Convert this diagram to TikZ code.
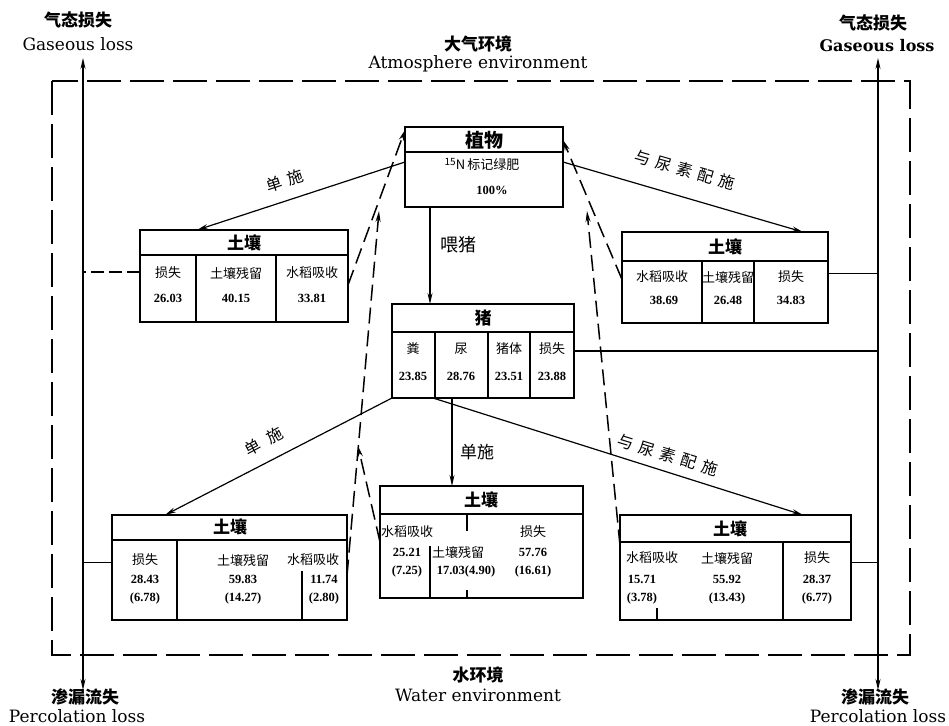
\documentclass[tikz,border=0pt]{standalone}
\usepackage{fontspec}
\setmainfont{Liberation Serif}
\newfontfamily\cjk{Noto Sans CJK SC}
\newfontfamily\wide{DejaVu Serif}
\usetikzlibrary{arrows.meta}
\begin{document}
\begin{tikzpicture}[x=1pt,y=-1pt,
  box/.style={draw, line width=1.7pt, inner sep=0pt, outer sep=0pt},
  arr/.style={line width=1.2pt, -{Stealth[length=11pt,width=5pt]}},
  ret/.style={line width=1.5pt, dash pattern=on 16pt off 7pt, -{Stealth[length=11pt,width=5pt]}},
  side/.style={line width=1.3pt, {Stealth[length=11pt,width=5pt]}-{Stealth[length=11pt,width=5pt]}},
  frame/.style={line width=2.2pt, dash pattern=on 34pt off 9pt},
  div/.style={line width=1.5pt},
  link/.style={line width=1.3pt},
  cn/.style={font=\cjk\fontsize{13}{13}\selectfont, inner sep=0pt},
  num/.style={font=\bfseries\fontsize{12.5}{12.5}\selectfont, inner sep=0pt},
  ttl/.style={font=\cjk\bfseries\fontsize{17}{17}\selectfont, inner sep=0pt},
  lab/.style={font=\cjk\fontsize{16}{16}\selectfont, inner sep=0pt},
  top/.style={font=\cjk\bfseries\fontsize{17}{17}\selectfont, inner sep=0pt},
  eng/.style={font=\wide\fontsize{17}{17}\selectfont, inner sep=0pt}
]
\useasboundingbox (0,0) rectangle (949,725);

% outer frame
\draw[frame] (52,81) rectangle (910,655);

% side lines
\coordinate (gl) at (83,58);
\coordinate (pl) at (83,690);
\coordinate (gr) at (878,58);
\coordinate (pr) at (878,690);
\draw[side] (pl) -- (gl);
\draw[side] (pr) -- (gr);

% outside labels
\node[top] (g1c) at (78,20) {气态损失};
\node[eng] (g1e) at (78,44) {Gaseous loss};
\node[top] (g2c) at (873,23) {气态损失};
\node[eng, font=\wide\bfseries\fontsize{16}{16}\selectfont] (g2e) at (877,46) {Gaseous loss};
\node[top] (atc) at (478,44) {大气环境};
\node[eng] (ate) at (478,64) {Atmosphere environment};
\node[top] (wtc) at (478,675) {水环境};
\node[eng] (wte) at (478,695) {Water environment};
\node[top] (p1c) at (85,697) {渗漏流失};
\node[eng] (p1e) at (77,716) {Percolation loss};
\node[top] (p2c) at (875,697) {渗漏流失};
\node[eng] (p2e) at (878,716) {Percolation loss};

% plant box
\node[box, minimum width=158pt, minimum height=80pt] (plant) at (484,167) {};
\draw[div] (405,152) -- (563,152);
\node[ttl, font=\cjk\bfseries\fontsize{19}{19}\selectfont] (plt) at (484,140) {植物};
\node[cn] (pl1) at (482,164) {\fontsize{10}{10}\selectfont\raisebox{4pt}{15}\fontsize{13}{13}\selectfont N\,标记绿肥};
\node[num] (pl2) at (492,190) {100\%};

% pig box
\node[box, minimum width=182pt, minimum height=94pt] (pig) at (483,351) {};
\draw[div] (392,332) -- (574,332);
\draw[div] (435,332) -- (435,398);
\draw[div] (488,332) -- (488,398);
\draw[div] (530,332) -- (530,398);
\node[ttl] (pgt) at (483,318) {猪};
\node[cn] (pg1) at (413,349) {粪};
\node[cn] (pg2) at (461,349) {尿};
\node[cn] (pg3) at (509,349) {猪体};
\node[cn] (pg4) at (552,349) {损失};
\node[num] (pv1) at (413,376) {23.85};
\node[num] (pv2) at (461,376) {28.76};
\node[num] (pv3) at (509,376) {23.51};
\node[num] (pv4) at (552,376) {23.88};

% top-left soil
\node[box, minimum width=208pt, minimum height=92pt] (tl) at (244,276) {};
\draw[div] (140,255) -- (348,255);
\draw[div] (196,255) -- (196,322);
\draw[div] (276,255) -- (276,322);
\node[ttl] (tlt) at (244,243) {土壤};
\node[cn] (tl1) at (168,273) {损失};
\node[cn] (tl2) at (236,273) {土壤残留};
\node[cn] (tl3) at (312,273) {水稻吸收};
\node[num] (tv1) at (168,298) {26.03};
\node[num] (tv2) at (236,298) {40.15};
\node[num] (tv3) at (312,298) {33.81};

% top-right soil
\node[box, minimum width=206pt, minimum height=91pt] (tr) at (725,277.5) {};
\draw[div] (622,261) -- (828,261);
\draw[div] (702,261) -- (702,323);
\draw[div] (754,261) -- (754,323);
\node[ttl] (trt) at (725,247) {土壤};
\node[cn] (tr1) at (662,277) {水稻吸收};
\node[cn] (tr2) at (728,277) {土壤残留};
\node[cn] (tr3) at (791,277) {损失};
\node[num] (rv1) at (664,300) {38.69};
\node[num] (rv2) at (728,300) {26.48};
\node[num] (rv3) at (791,300) {34.83};

% bottom-left soil
\node[box, minimum width=235pt, minimum height=105pt] (bl) at (229.5,567.5) {};
\draw[div] (112,540) -- (347,540);
\draw[div] (177,540) -- (177,620);
\draw[div] (302,571) -- (302,620);
\node[ttl] (blt) at (230,527) {土壤};
\node[cn] (bl1) at (145,560) {损失};
\node[cn] (bl2) at (243,560) {土壤残留};
\node[cn] (bl3) at (313,560) {水稻吸收};
\node[num] (bv1) at (145,579) {28.43};
\node[num] (bv2) at (243,579) {59.83};
\node[num] (bv3) at (324,579) {11.74};
\node[num] (bp1) at (145,598) {(6.78)};
\node[num] (bp2) at (243,598) {(14.27)};
\node[num] (bp3) at (324,598) {(2.80)};

% bottom-middle soil
\node[box, minimum width=203pt, minimum height=112pt] (bm) at (481.5,542) {};
\draw[div] (380,514) -- (583,514);
\draw[div] (430,546) -- (430,598);
\draw[div] (467,514) -- (467,531);
\draw[div] (467,590) -- (467,598);
\node[ttl] (bmt) at (481,500) {土壤};
\node[cn] (bm1) at (407,532) {水稻吸收};
\node[cn] (bm2) at (458,552) {土壤残留};
\node[cn] (bm3) at (533,532) {损失};
\node[num] (mv1) at (407,552) {25.21};
\node[num] (mp1) at (407,571) {(7.25)};
\node[num] (mv2) at (466,571) {17.03(4.90)};
\node[num] (mv3) at (533,552) {57.76};
\node[num] (mp3) at (533,571) {(16.61)};

% bottom-right soil
\node[box, minimum width=231pt, minimum height=105pt] (br) at (735.5,567.5) {};
\draw[div] (620,542) -- (851,542);
\draw[div] (783,542) -- (783,620);
\draw[div] (657,608) -- (657,620);
\node[ttl] (brt) at (730,529) {土壤};
\node[cn] (br1) at (652,558) {水稻吸收};
\node[cn] (br2) at (727,558) {土壤残留};
\node[cn] (br3) at (817,558) {损失};
\node[num] (sv1) at (642,579) {15.71};
\node[num] (sv2) at (727,579) {55.92};
\node[num] (sv3) at (817,579) {28.37};
\node[num] (sp1) at (642,598) {(3.78)};
\node[num] (sp2) at (727,598) {(13.43)};
\node[num] (sp3) at (817,598) {(6.77)};

% links to side lines
\draw[link, dash pattern=on 13pt off 5pt] ([yshift=4pt]tl.west) -- ([yshift=4pt]tl.west -| gl);
\draw[link] ([yshift=4pt]tr.east) -- ([yshift=4pt]tr.east -| gr);
\draw[link] (pig.east) -- (pig.east -| gr);
\draw[link] ([yshift=5pt]bl.west) -- ([yshift=5pt]bl.west -| gl);
\draw[link] ([yshift=5pt]br.east) -- ([yshift=5pt]br.east -| gr);

% flows
\draw[arr] ([yshift=5pt]plant.west) -- ([xshift=57pt]tl.north west);
\draw[arr] ([yshift=5pt]plant.east) -- ([xshift=181pt]tr.north west);
\draw[arr] ([xshift=25pt]plant.south west) -- ([xshift=25pt]plant.south west |- pig.north);
\draw[arr] (pig.south west) -- ([xshift=53pt]bl.north west);
\draw[arr] ([xshift=60pt]pig.south west) -- ([xshift=60pt]pig.south west |- bm.north);
\draw[arr] ([xshift=41pt]pig.south west) -- ([xshift=183pt]br.north west);

% return (dashed) flows
\coordinate (l1tip) at (379,211);
\coordinate (r1tip) at (587,211);
\coordinate (m1tip) at (358,446);
\draw[ret] ([yshift=-9pt]tl.east) -- ([yshift=-3pt]plant.north west);
\draw[ret] ([yshift=-2pt]tr.west) -- ([yshift=-13pt]plant.north east);
\draw[ret] ([yshift=-8pt]bl.east) -- (l1tip);
\draw[ret] ([yshift=22pt]br.west) -- (r1tip);
\draw[ret] (bm.west) -- (m1tip);

% flow labels
\node[lab, rotate=18] (f1) at (285,181) {单\hspace{6pt}施};
\node[lab, rotate=-16] (f2) at (685,170) {与\hspace{6pt}尿\hspace{6pt}素\hspace{6pt}配\hspace{6pt}施};
\node[lab, font=\cjk\fontsize{18}{18}\selectfont] (f3) at (458,245) {喂猪};
\node[lab, rotate=28] (f4) at (264,441) {单\hspace{9pt}施};
\node[lab, font=\cjk\fontsize{17}{17}\selectfont] (f5) at (477,452) {单施};
\node[lab, rotate=-17] (f6) at (668,455) {与\hspace{6pt}尿\hspace{6pt}素\hspace{6pt}配\hspace{6pt}施};
\end{tikzpicture}
\end{document}
